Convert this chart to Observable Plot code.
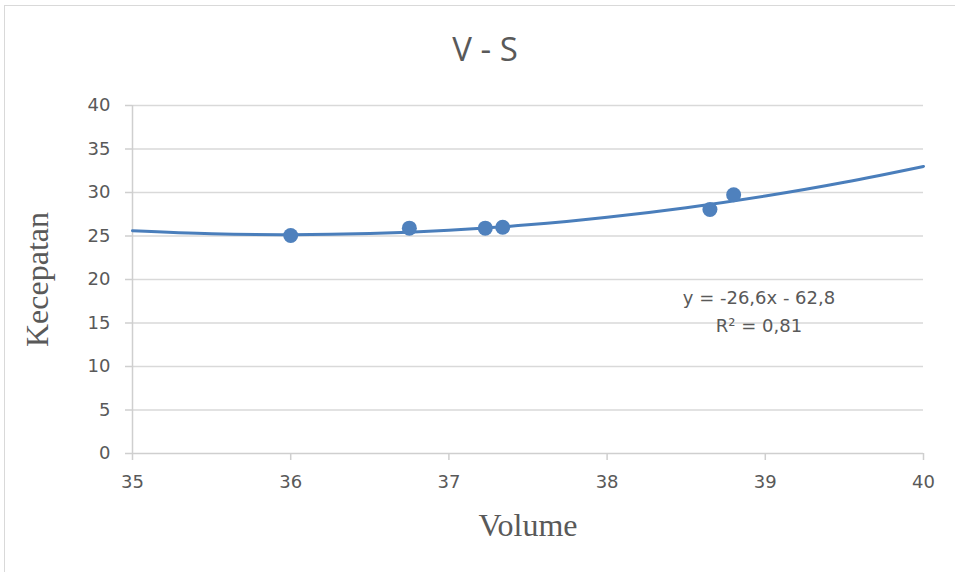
<!DOCTYPE html>
<html>
<head>
<meta charset="utf-8">
<script src="https://cdn.jsdelivr.net/npm/d3@7"></script>
<script src="https://cdn.jsdelivr.net/npm/@observablehq/plot@0.6"></script>
<style>
  html, body { margin: 0; padding: 0; background: #fff; width: 955px; height: 572px; overflow: hidden; }
  #frame { position: absolute; left: 4px; top: 5px; width: 1000px; height: 620px; border: 1px solid #d9d9d9; box-sizing: border-box; }
  #title { position: absolute; top: 27px; left: 385px; width: 200px; text-align: center; font-family: "Open Sans", sans-serif; font-size: 33px; color: #595959; line-height: 44px; }
  #chart { position: absolute; left: 0; top: 0; }
</style>
</head>
<body>
<div id="frame"></div>
<div id="chart"></div>
<div id="title"></div>
<script>
const chartTitle = "V - S";
const xLabel = "Volume";
const yLabel = "Kecepatan";
const volume = [36.0, 36.75, 37.23, 37.34, 38.65, 38.80];
const kecepatan = [25.05, 25.9, 25.9, 26.0, 28.05, 29.74];
const trendX = [35, 35.5, 36, 36.5, 37, 37.5, 38, 38.5, 39, 39.5, 40];
const trendY = [25.6, 25.25, 25.15, 25.29, 25.67, 26.28, 27.15, 28.25, 29.59, 31.17, 33.0];
const xTicks = [35, 36, 37, 38, 39, 40];
const yTicks = [0, 5, 10, 15, 20, 25, 30, 35, 40];
const equationLines = ["y = -26,6x - 62,8", "R² = 0,81"];
const equationX = [38.96, 38.96];
const equationY = [17.8, 14.6];

document.getElementById("title").textContent = chartTitle;

const points = volume.map((v, i) => ({x: v, y: kecepatan[i]}));
const trend = trendX.map((v, i) => ({x: v, y: trendY[i]}));
const eq = equationLines.map((t, i) => ({t, x: equationX[i], y: equationY[i]}));

const blue = "#4a7ebb";
const grid = "#d9d9d9";
const axisColor = "#cfcfcf";
const textColor = "#595959";
const tickFont = "'DejaVu Sans', sans-serif";

const plot = Plot.plot({
  width: 955,
  height: 572,
  marginLeft: 132,
  marginRight: 32,
  marginTop: 105,
  marginBottom: 119,
  x: {domain: [35, 40]},
  y: {domain: [0, 40]},
  style: {fontFamily: tickFont, fontSize: "16px", color: textColor, background: "transparent"},
  marks: [
    Plot.ruleY(yTicks.filter(d => d > 0), {stroke: grid, strokeWidth: 1.5}),
    Plot.axisY({ticks: yTicks, tickFormat: () => "", tickSize: 7, stroke: axisColor, strokeWidth: 1.5, label: null}),
    Plot.axisX({ticks: xTicks, tickFormat: () => "", tickSize: 7, stroke: axisColor, strokeWidth: 1.5, label: null}),
    Plot.text(yTicks, {x: 35, y: d => d, text: d => String(d), dx: -22, textAnchor: "end", lineAnchor: "middle", fontSize: 18, fontFamily: tickFont, fill: textColor}),
    Plot.text(xTicks, {x: d => d, y: 0, text: d => String(d), dy: 29, textAnchor: "middle", lineAnchor: "middle", fontSize: 18, fontFamily: tickFont, fill: textColor}),
    Plot.ruleX([35], {stroke: axisColor, strokeWidth: 1.5}),
    Plot.ruleY([0], {stroke: axisColor, strokeWidth: 1.5}),
    Plot.line(trend, {x: "x", y: "y", curve: "natural", stroke: blue, strokeWidth: 3}),
    Plot.dot(points, {x: "x", y: "y", r: 7.5, fill: "#4f81bd", stroke: "none"}),
    Plot.text(eq, {x: "x", y: "y", text: "t", fontFamily: "'DejaVu Sans', sans-serif", fontSize: 18, fill: textColor, textAnchor: "middle"}),
    Plot.text([xLabel], {frameAnchor: "bottom", dy: 72, text: d => d, textAnchor: "middle", lineAnchor: "middle", fontFamily: "'Liberation Serif', serif", fontSize: 32, fill: textColor}),
    Plot.text([yLabel], {frameAnchor: "left", dx: -95, rotate: -90, text: d => d, textAnchor: "middle", lineAnchor: "middle", fontFamily: "'Liberation Serif', serif", fontSize: 32, fill: textColor})
  ]
});
document.getElementById("chart").appendChild(plot);
</script>
</body>
</html>
